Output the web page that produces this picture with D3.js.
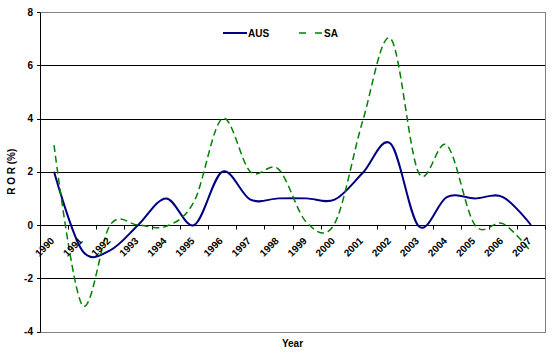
<!DOCTYPE html>
<html><head><meta charset="utf-8">
<script src="https://cdn.jsdelivr.net/npm/d3@7"></script>
<style>body{margin:0;background:#fff}svg{display:block}text{font-family:"Liberation Sans",Arial,sans-serif;font-weight:bold;fill:#000}</style>
</head><body><svg id="c" width="553" height="356"></svg>
<script>
const years = ["1990","1991","1992","1993","1994","1995","1996","1997","1998","1999","2000","2001","2002","2003","2004","2005","2006","2007"];
const aus = [2.0, -0.95, -0.95, 0.0, 1.0, 0.0, 2.0, 0.95, 1.0, 1.0, 0.95, 1.95, 3.05, -0.05, 1.05, 1.0, 1.05, 0.0];
const sa  = [3.0, -3.0, 0.0, 0.0, -0.05, 0.9, 4.0, 2.0, 2.1, 0.1, 0.05, 3.9, 7.0, 1.95, 3.0, 0.0, 0.05, -1.0];
const yTicks = [-4, -2, 0, 2, 4, 6, 8];
const seriesNames = ["AUS", "SA"];

const svg = d3.select("#c");
const L = 40, R = 545, T = 12, B = 331.5;
const x = d3.scaleBand().domain(years).range([L, R]);
const y = d3.scaleLinear().domain([-4, 8]).range([B, T]);
const cx = d => x(d) + x.bandwidth() / 2;
const py = v => Math.round(y(v)) + 0.5;

// plot border (gray)
svg.append("rect").attr("x", L + 0.5).attr("y", py(8)).attr("width", R - L).attr("height", py(-4) - py(8))
  .attr("fill", "none").attr("stroke", "#808080").attr("stroke-width", 1);
// gridlines
svg.selectAll("line.grid").data(yTicks.filter(v => v > -4 && v < 8)).enter().append("line")
  .attr("x1", L).attr("x2", R).attr("y1", py).attr("y2", py).attr("stroke", "#000").attr("stroke-width", 1);
// y axis
svg.append("line").attr("x1", L + 0.5).attr("x2", L + 0.5).attr("y1", py(8)).attr("y2", py(-4)).attr("stroke", "#000");
svg.selectAll("line.yt").data(yTicks).enter().append("line")
  .attr("x1", L - 3).attr("x2", L).attr("y1", py).attr("y2", py).attr("stroke", "#000");
svg.selectAll("text.yl").data(yTicks).enter().append("text")
  .attr("x", 33).attr("y", d => y(d)).attr("dy", "0.35em").attr("text-anchor", "end")
  .attr("font-size", 10).text(d => d);

// x ticks at band boundaries on zero line
const bounds = years.map(d => x(d)).concat([R]);
svg.selectAll("line.xt").data(bounds.slice(1)).enter().append("line")
  .attr("x1", d => Math.round(d) + 0.5).attr("x2", d => Math.round(d) + 0.5)
  .attr("y1", py(0)).attr("y2", py(0) + 4).attr("stroke", "#000");

// lines
const line = d3.line().x((d, i) => cx(years[i])).y(d => y(d)).curve(d3.curveCardinal.tension(0));
svg.append("path").datum(aus).attr("d", line).attr("fill", "none").attr("stroke", "#000080").attr("stroke-width", 2);
svg.append("path").datum(sa).attr("d", line).attr("fill", "none").attr("stroke", "#008000").attr("stroke-width", 1.5)
  .attr("stroke-dasharray", "7,4");

// x labels
svg.selectAll("text.xl").data(years).enter().append("text")
  .attr("text-anchor", "end").attr("font-size", 10)
  .attr("transform", d => `translate(${cx(d) + 1},${py(0) + 16}) rotate(-45)`)
  .text(d => d);

// axis titles
svg.append("text").attr("transform", `translate(15,${(T + B) / 2}) rotate(-90)`).attr("text-anchor", "middle")
  .attr("font-size", 10).text("R O R (%)");
svg.append("text").attr("x", (L + R) / 2).attr("y", 347).attr("text-anchor", "middle").attr("font-size", 10).text("Year");

// legend
const lg = svg.append("g");
lg.append("line").attr("x1", 223).attr("x2", 247).attr("y1", 33).attr("y2", 33).attr("stroke", "#000080").attr("stroke-width", 2);
lg.append("text").attr("x", 248).attr("y", 33).attr("dy", "0.35em").attr("font-size", 10).text(seriesNames[0]);
lg.append("line").attr("x1", 299).attr("x2", 322).attr("y1", 33).attr("y2", 33).attr("stroke", "#008000").attr("stroke-width", 1.5)
  .attr("stroke-dasharray", "7,9");
lg.append("text").attr("x", 324).attr("y", 33).attr("dy", "0.35em").attr("font-size", 10).text(seriesNames[1]);
</script></body></html>
